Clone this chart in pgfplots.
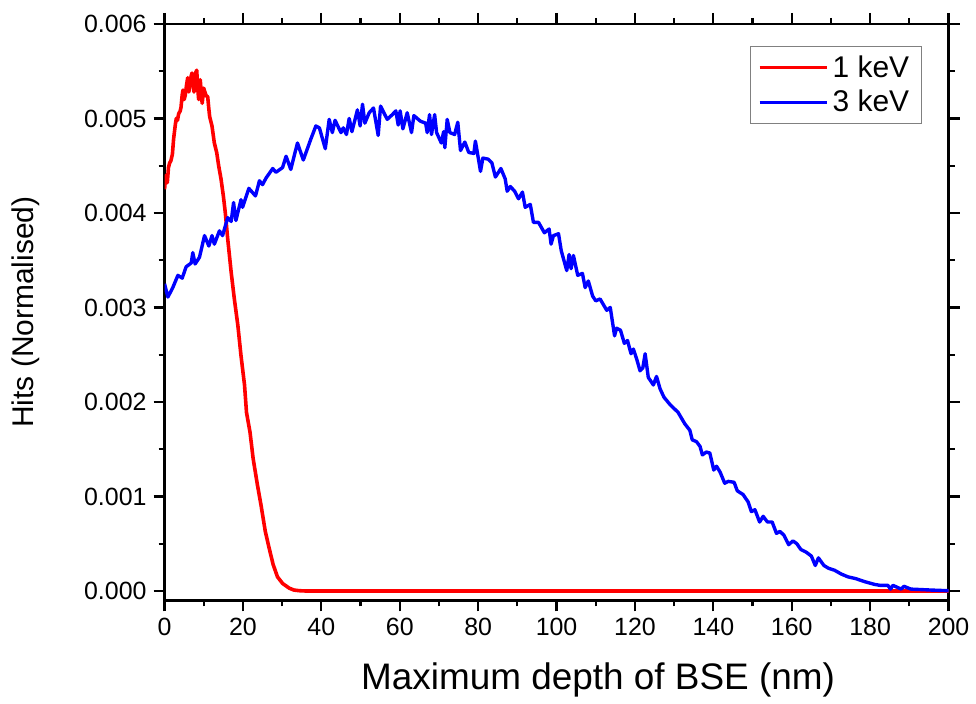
\documentclass[border=0pt]{standalone}
\usepackage{fontspec}
\setmainfont{Liberation Sans}
\usepackage{pgfplots}
\pgfplotsset{compat=1.18}

\begin{document}
\begin{tikzpicture}
\begin{axis}[
    scale only axis,
    width=393pt,
    height=289pt,
    xmin=0, xmax=200,
    ymin=-0.0001, ymax=0.006,
    xtick={0,20,...,200},
    ytick={0,0.001,...,0.006},
    minor x tick num=1,
    minor y tick num=1,
    tick align=outside,
    major tick length=5.5pt,
    minor tick length=3pt,
    every tick/.style={black, line width=1.1pt},
    axis line style={line width=1.1pt},
    scaled y ticks=false,
    yticklabel style={/pgf/number format/fixed, /pgf/number format/fixed zerofill, /pgf/number format/precision=3},
    /pgf/number format/assume math mode=true,
    tick label style={font=\fontsize{12.5}{15}\selectfont},
    xlabel={Maximum depth of BSE (nm)},
    ylabel={Hits (Normalised)},
    xlabel style={font=\fontsize{18.5}{22}\selectfont, at={(axis description cs:0.553,-0.138)}, anchor=center},
    ylabel style={font=\fontsize{15}{18}\selectfont, at={(axis description cs:-0.177,0.5)}, anchor=center},
    legend style={at={(rel axis cs:1,1)}, anchor=north east, xshift=-13.5pt, yshift=-11pt,
        draw=gray, line width=0.5pt, font=\fontsize{15}{18}\selectfont,
        inner xsep=4pt, inner ysep=2.5pt, row sep=1pt},
    legend cell align=left,
    legend image code/.code={\draw[#1, line width=1.2pt] (0pt,0pt) -- (34pt,0pt);},
    every axis plot/.append style={line join=round},
]
\addplot[red, line width=1.8pt] coordinates {
(0,0.00425) (0.2,0.00435) (0.4,0.00440) (0.7,0.00432) (1.0,0.00448) (1.3,0.00453)
(1.6,0.00455) (2.0,0.00462) (2.3,0.00478) (2.5,0.00485) (2.8,0.00495) (3.0,0.00500)
(3.3,0.00498) (3.6,0.00505) (4.0,0.00508) (4.2,0.00512) (4.5,0.00525) (4.7,0.00530)
(5.0,0.00520) (5.3,0.00525) (5.6,0.00535) (5.9,0.00543) (6.2,0.00528) (6.5,0.00538)
(6.8,0.00545) (7.0,0.00548) (7.3,0.00535) (7.5,0.00528) (7.9,0.00548) (8.2,0.00551)
(8.5,0.00530) (8.7,0.00520) (9.1,0.00541) (9.4,0.00525) (9.6,0.00516) (10.0,0.00532)
(10.2,0.00529) (10.6,0.00524) (11.0,0.00523) (11.3,0.00510) (11.5,0.00502) (12.1,0.00492)
(12.7,0.00474) (13.3,0.00464) (13.8,0.00450) (14.4,0.00436) (15.0,0.00418) (15.5,0.00400)
(16.1,0.00373) (17.0,0.00337) (17.8,0.00309) (18.7,0.00281) (19.5,0.00249) (20.4,0.00218)
(20.9,0.00189) (21.8,0.00168) (22.6,0.00140) (23.7,0.00112) (24.6,0.00091) (25.7,0.00063)
(26.7,0.00045) (27.7,0.00028) (28.8,0.00015) (30.1,0.00008) (31.8,0.00003) (33,0.00001)
(34.4,0.000003) (36,0) (200,0)
};
\addlegendentry{1 keV}
\addplot[blue, line width=1.7pt] coordinates {
(0,0.00325) (0.85,0.00311) (2.1,0.00321) (3.4,0.00334) (4.5,0.00331) (5.5,0.00343)
(6.8,0.00347) (7.2,0.00358) (7.8,0.00346) (8.9,0.00353) (10.2,0.00376) (11.3,0.00365)
(12.1,0.00376) (12.7,0.00367) (14.0,0.00381) (14.8,0.00376) (16.1,0.00395) (17.0,0.00391)
(17.6,0.00411) (18.2,0.00392) (19.5,0.00414) (19.9,0.00406) (21.5,0.00426) (23.2,0.00418)
(24.2,0.00434) (25.0,0.00430) (25.9,0.00437) (27.6,0.00447) (28.4,0.00443) (30.1,0.00448)
(31.0,0.00460) (32.2,0.00446) (33.9,0.00474) (35.4,0.00456) (37.3,0.00478) (38.6,0.00492)
(39.5,0.00490) (41.0,0.00468) (42.0,0.00499) (42.8,0.00485) (43.5,0.00498) (45.0,0.00485)
(45.6,0.00490) (46.4,0.00483) (47.1,0.00500) (47.8,0.00486) (49.2,0.00509) (49.9,0.00492)
(50.5,0.00515) (51.1,0.00495) (52.2,0.00506) (53.3,0.00511) (54.5,0.00482) (55.1,0.00513)
(56.8,0.00499) (58.1,0.00504) (59.0,0.00508) (59.6,0.00493) (60.1,0.00508) (60.8,0.00489)
(61.9,0.00506) (63.0,0.00485) (63.6,0.00503) (65.3,0.00497) (66.6,0.00495) (67.0,0.00485)
(67.6,0.00504) (68.1,0.00483) (68.9,0.00504) (69.4,0.00485) (70.6,0.00474) (71.2,0.00486)
(71.5,0.00469) (72.1,0.00499) (72.8,0.00485) (74.0,0.00483) (74.8,0.00496) (75.5,0.00466)
(76.6,0.00475) (77.6,0.00464) (78.9,0.00463) (79.3,0.00476) (80.6,0.00444) (81.2,0.00458)
(82.5,0.00457) (83.5,0.00453) (84.4,0.00438) (85.8,0.00447) (86.9,0.00436) (87.4,0.00423)
(88.2,0.00428) (89.3,0.00423) (90.3,0.00415) (91.3,0.00422) (92.0,0.00406) (93.3,0.00409)
(94.1,0.00390) (95.4,0.00390) (96.9,0.00379) (98.1,0.00383) (98.6,0.00367) (99.2,0.00376)
(100.5,0.00378) (101.2,0.00360) (102.6,0.00339) (103.2,0.00356) (103.7,0.00341) (104.3,0.00355)
(105.4,0.00334) (106.6,0.00336) (107.3,0.00321) (108.1,0.00328) (109.2,0.00312) (110.0,0.00307)
(111.1,0.00309) (112.8,0.00297) (113.7,0.00300) (114.8,0.00270) (115.3,0.00278) (116.3,0.00276)
(117.3,0.00262) (118.1,0.00265) (119.0,0.00251) (119.6,0.00256) (120.4,0.00246) (121.3,0.00233)
(122.0,0.00236) (122.6,0.00251) (123.4,0.00226) (124.7,0.00218) (125.5,0.00227) (126.4,0.00214)
(127.4,0.00205) (129.0,0.00197) (131.0,0.00189) (132.7,0.00177) (134.0,0.00170) (134.6,0.00160)
(135.7,0.00158) (136.6,0.00153) (137.2,0.00144) (138.2,0.00147) (139.1,0.00146) (140.1,0.00128)
(140.8,0.00132) (141.7,0.00126) (142.9,0.00114) (143.8,0.00116) (145.3,0.00115) (146.1,0.00106)
(147.6,0.00102) (148.9,0.00094) (149.7,0.00084) (150.6,0.00086) (151.8,0.00073) (152.7,0.00079)
(153.8,0.00073) (155.0,0.00073) (156.1,0.00061) (157.0,0.00063) (158.0,0.00059) (159.2,0.00049)
(160.3,0.00053) (161.3,0.00050) (162.3,0.00044) (163.7,0.00041) (165.0,0.00037) (166.0,0.00027)
(166.8,0.00035) (168.2,0.00027) (169.4,0.00024) (170.9,0.00022) (172.6,0.00018) (174.3,0.00015)
(176.4,0.00013) (178.5,0.00010) (181.1,0.00007) (182.5,0.00006) (184.5,0.00006) (185.2,0.00002)
(185.8,0.00006) (187.9,0.00002) (188.6,0.00005) (190.4,0.00002) (193,0.000015) (195.5,0.00001)
(200,0.000003)
};
\addlegendentry{3 keV}
\coordinate (bbl) at (rel axis cs:-0.2099,-0.1644);
\coordinate (btr) at (rel axis cs:1.0318,1.0415);
\end{axis}
\path (bbl) rectangle (btr);
\end{tikzpicture}
\end{document}
